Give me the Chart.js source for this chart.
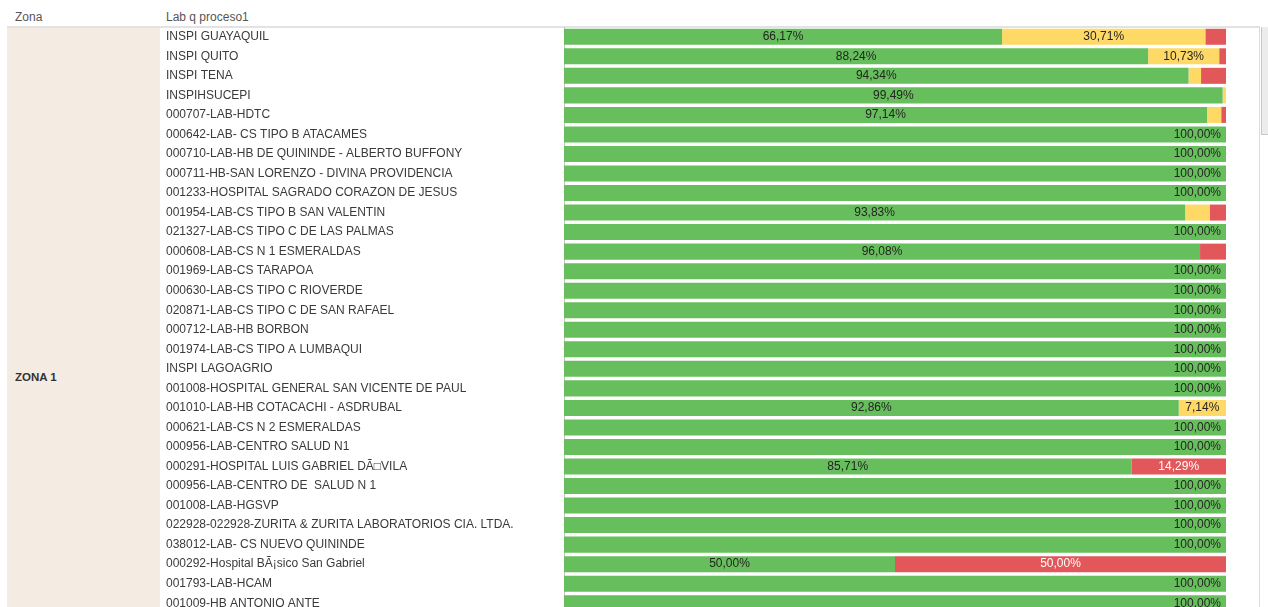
<!DOCTYPE html>
<html>
<head>
<meta charset="utf-8">
<script src="https://cdn.jsdelivr.net/npm/chart.js@4.4.1/dist/chart.umd.min.js"></script>
<style>
  html, body { margin:0; padding:0; width:1268px; height:607px; overflow:hidden; background:#fff;
    font-family:"Liberation Sans", Arial, sans-serif; }
  .hdr { position:absolute; top:10px; font-size:12px; color:#555; }
  #hline { position:absolute; left:7px; top:26px; width:1253px; height:2px; background:#e3e3e3; }
  #zonacol { position:absolute; left:7px; top:28px; width:153px; height:579px; background:#F4ECE2; }
  #zonalab { position:absolute; left:15px; top:371px; font-size:11.5px; font-weight:bold; color:#333; }
  #vline { position:absolute; left:1259px; top:26px; width:1px; height:581px; background:#dcdcdc; }
  #thumb { position:absolute; left:1261px; top:27px; width:7px; height:108px; background:#ececec;
    border-left:1px solid #c8c8c8; border-bottom:1px solid #c8c8c8; box-sizing:border-box; }
  #wrap { position:absolute; left:160px; top:27px; width:1066px; height:586px; }
</style>
</head>
<body>
<div class="hdr" style="left:15px">Zona</div>
<div class="hdr" style="left:166px">Lab q proceso1</div>
<div id="hline"></div>
<div id="zonacol"></div>
<div id="zonalab">ZONA 1</div>
<div id="vline"></div>
<div id="thumb"></div>
<div id="wrap"><canvas id="c"></canvas></div>
<script>
const labs = [
  "INSPI GUAYAQUIL",
  "INSPI QUITO",
  "INSPI TENA",
  "INSPIHSUCEPI",
  "000707-LAB-HDTC",
  "000642-LAB- CS TIPO B ATACAMES",
  "000710-LAB-HB DE QUININDE - ALBERTO BUFFONY",
  "000711-HB-SAN LORENZO - DIVINA PROVIDENCIA",
  "001233-HOSPITAL SAGRADO CORAZON DE JESUS",
  "001954-LAB-CS TIPO B SAN VALENTIN",
  "021327-LAB-CS TIPO C DE LAS PALMAS",
  "000608-LAB-CS N 1 ESMERALDAS",
  "001969-LAB-CS TARAPOA",
  "000630-LAB-CS TIPO C RIOVERDE",
  "020871-LAB-CS TIPO C DE SAN RAFAEL",
  "000712-LAB-HB BORBON",
  "001974-LAB-CS TIPO A LUMBAQUI",
  "INSPI LAGOAGRIO",
  "001008-HOSPITAL GENERAL SAN VICENTE DE PAUL",
  "001010-LAB-HB COTACACHI - ASDRUBAL",
  "000621-LAB-CS N 2 ESMERALDAS",
  "000956-LAB-CENTRO SALUD N1",
  "000291-HOSPITAL LUIS GABRIEL D\u00C3\u25A1VILA",
  "000956-LAB-CENTRO DE  SALUD N 1",
  "001008-LAB-HGSVP",
  "022928-022928-ZURITA & ZURITA LABORATORIOS CIA. LTDA.",
  "038012-LAB- CS NUEVO QUININDE",
  "000292-Hospital B\u00C3\u00A1sico San Gabriel",
  "001793-LAB-HCAM",
  "001009-HB ANTONIO ANTE"
];
const greenVals  = [66.17, 88.24, 94.34, 99.49, 97.14, 100, 100, 100, 100, 93.83, 100, 96.08, 100, 100, 100, 100, 100, 100, 100, 92.86, 100, 100, 85.71, 100, 100, 100, 100, 50.00, 100, 100];
const yellowVals = [30.71, 10.73, 1.89, 0.51, 2.14, 0, 0, 0, 0, 3.70, 0, 0, 0, 0, 0, 0, 0, 0, 0, 7.14, 0, 0, 0, 0, 0, 0, 0, 0, 0, 0];
const redVals    = [3.12, 1.03, 3.77, 0, 0.72, 0, 0, 0, 0, 2.47, 0, 3.92, 0, 0, 0, 0, 0, 0, 0, 0, 0, 0, 14.29, 0, 0, 0, 0, 50.00, 0, 0];

const segLabels = {
  id: 'segLabels',
  afterDatasetsDraw(chart) {
    const ctx = chart.ctx;
    ctx.save();
    ctx.font = '12px "Liberation Sans", Arial, sans-serif';
    ctx.textBaseline = 'middle';
    chart.data.datasets.forEach((ds, di) => {
      const meta = chart.getDatasetMeta(di);
      meta.data.forEach((bar, i) => {
        const v = ds.data[i];
        if (!v || v < 5) return;
        const txt = v.toFixed(2).replace('.', ',') + '%';
        ctx.fillStyle = di === 2 ? '#ffffff' : '#252423';
        if (v >= 100) {
          ctx.textAlign = 'right';
          ctx.fillText(txt, bar.x - 5, bar.y);
        } else {
          ctx.textAlign = 'center';
          ctx.fillText(txt, (bar.x + bar.base) / 2, bar.y);
        }
      });
    });
    ctx.restore();
  }
};

new Chart(document.getElementById('c'), {
  type: 'bar',
  data: {
    labels: labs,
    datasets: [
      { label: 'OK', data: greenVals, backgroundColor: '#66BF5C' },
      { label: 'Medio', data: yellowVals, backgroundColor: '#FED966' },
      { label: 'Bajo', data: redVals, backgroundColor: '#E1575A' }
    ]
  },
  options: {
    indexAxis: 'y',
    responsive: true,
    maintainAspectRatio: false,
    animation: false,
    layout: { padding: { left: 6, right: 0, top: 0, bottom: 0 } },
    datasets: { bar: { barPercentage: 0.82, categoryPercentage: 1.0, borderWidth: 0 } },
    plugins: { legend: { display: false }, tooltip: { enabled: false } },
    scales: {
      x: { stacked: true, min: 0, max: 100, display: false },
      y: {
        stacked: true,
        grid: { display: false, drawTicks: false },
        border: { display: true, color: '#c4c4c4', dash: [1, 1] },
        ticks: { autoSkip: false, crossAlign: 'far', padding: 0, color: '#3a3a3a',
          font: { family: '"Liberation Sans", Arial, sans-serif', size: 12 } },
        afterFit(scale) { scale.width = 398; scale.paddingTop = 0; scale.paddingBottom = 0; }
      }
    }
  },
  plugins: [segLabels]
});
</script>
</body>
</html>
